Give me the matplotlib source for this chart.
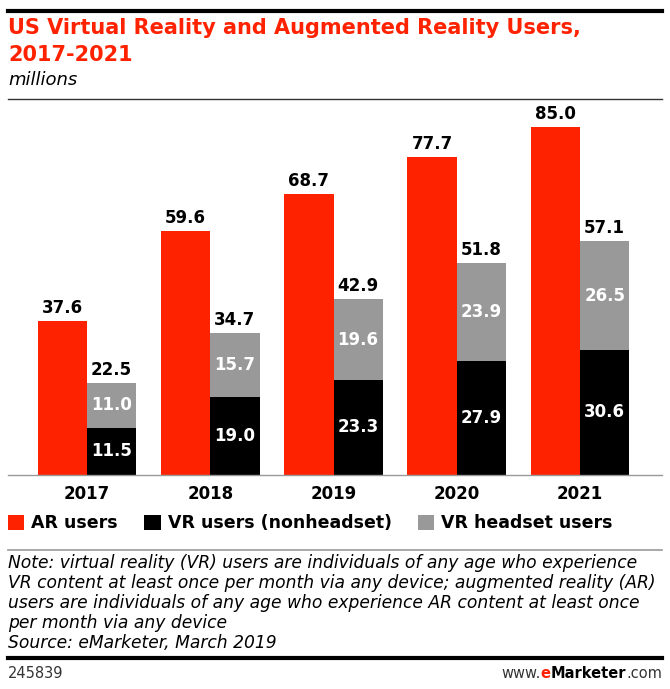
import matplotlib
matplotlib.use('Agg')
import matplotlib.pyplot as plt
import numpy as np

years = ['2017', '2018', '2019', '2020', '2021']
ar_users = [37.6, 59.6, 68.7, 77.7, 85.0]
vr_nonheadset = [11.5, 19.0, 23.3, 27.9, 30.6]
vr_headset = [11.0, 15.7, 19.6, 23.9, 26.5]
vr_total = [22.5, 34.7, 42.9, 51.8, 57.1]

RED = '#ff2200'
GREY = '#999999'
W, H = 670, 689

plt.rcParams['font.family'] = ['DejaVu Sans']

fig = plt.figure(figsize=(W / 100, H / 100), dpi=100)


def fx(px):
    return px / W


def fy(py):
    return 1 - py / H


ax = fig.add_axes([fx(8), fy(475), fx(662) - fx(8), fy(105) - fy(475)])

x = np.arange(len(years))
bw = 0.4
b_ar = ax.bar(x - bw / 2, ar_users, bw, color=RED, label='AR users')
b_vr = ax.bar(x + bw / 2, vr_nonheadset, bw, color='black', label='VR users (nonheadset)')
b_hs = ax.bar(x + bw / 2, vr_headset, bw, bottom=vr_nonheadset, color=GREY, label='VR headset users')

ax.set_xlim(-0.641, 4.665)
ax.set_ylim(0, 90.4)

lab = dict(fontsize=12, fontweight='bold')
for i in range(len(years)):
    ax.text(x[i] - bw / 2, ar_users[i] + 1.0, f'{ar_users[i]:.1f}', ha='center', va='bottom', **lab)
    ax.text(x[i] + bw / 2, vr_total[i] + 1.0, f'{vr_total[i]:.1f}', ha='center', va='bottom', **lab)
    ax.text(x[i] + bw / 2, vr_nonheadset[i] / 2, f'{vr_nonheadset[i]:.1f}', ha='center', va='center',
            color='white', **lab)
    ax.text(x[i] + bw / 2, vr_nonheadset[i] + vr_headset[i] / 2, f'{vr_headset[i]:.1f}', ha='center',
            va='center', color='white', **lab)

ax.set_xticks(x)
ax.set_xticklabels(years, fontsize=12, fontweight='bold')
ax.tick_params(axis='x', length=0, pad=7)
ax.set_yticks([])
for s in ['top', 'left', 'right']:
    ax.spines[s].set_visible(False)
ax.spines['bottom'].set_color(GREY)
ax.spines['bottom'].set_linewidth(1)

# header
fig.add_artist(plt.Line2D([fx(8), fx(662)], [fy(11), fy(11)], color='black', lw=3))
fig.text(fx(8), fy(28), 'US Virtual Reality and Augmented Reality Users,', color=RED,
         fontsize=15, fontweight='bold', va='center')
fig.text(fx(8), fy(55), '2017-2021', color=RED, fontsize=15, fontweight='bold', va='center')
fig.text(fx(8), fy(80), 'millions', fontsize=13, style='italic', va='center')
fig.add_artist(plt.Line2D([fx(8), fx(662)], [fy(99), fy(99)], color='#333333', lw=1))

# legend
fig.legend(handles=[b_ar, b_vr, b_hs], loc='center left', bbox_to_anchor=(fx(8), fy(523)),
           ncol=3, frameon=False, handlelength=0.95, handleheight=0.95, handletextpad=0.4,
           columnspacing=1.5, borderaxespad=0, borderpad=0,
           prop={'size': 12.5, 'weight': 'bold'})

# footer
fig.add_artist(plt.Line2D([fx(8), fx(662)], [fy(550), fy(550)], color=GREY, lw=1.2))
note = ['Note: virtual reality (VR) users are individuals of any age who experience',
        'VR content at least once per month via any device; augmented reality (AR)',
        'users are individuals of any age who experience AR content at least once',
        'per month via any device',
        'Source: eMarketer, March 2019']
for k, line in enumerate(note):
    fig.text(fx(8), fy(563 + 20 * k), line, fontsize=12.3, style='italic', va='center')
fig.add_artist(plt.Line2D([fx(8), fx(662)], [fy(658), fy(658)], color='black', lw=3))
fig.text(fx(8), fy(673), '245839', fontsize=10.5, va='center', color='#333333')

renderer = fig.canvas.get_renderer()
parts = [('.com', 'normal', '#333333'), ('Marketer', 'bold', 'black'),
         ('e', 'bold', RED), ('www.', 'normal', '#333333')]
xr = 662
for txt, wt, col in parts:
    t = fig.text(fx(xr), fy(673), txt, fontsize=10.5, fontweight=wt, color=col, ha='right', va='center')
    bb = t.get_window_extent(renderer)
    xr -= bb.width

fig.savefig('out.png', dpi=100)
